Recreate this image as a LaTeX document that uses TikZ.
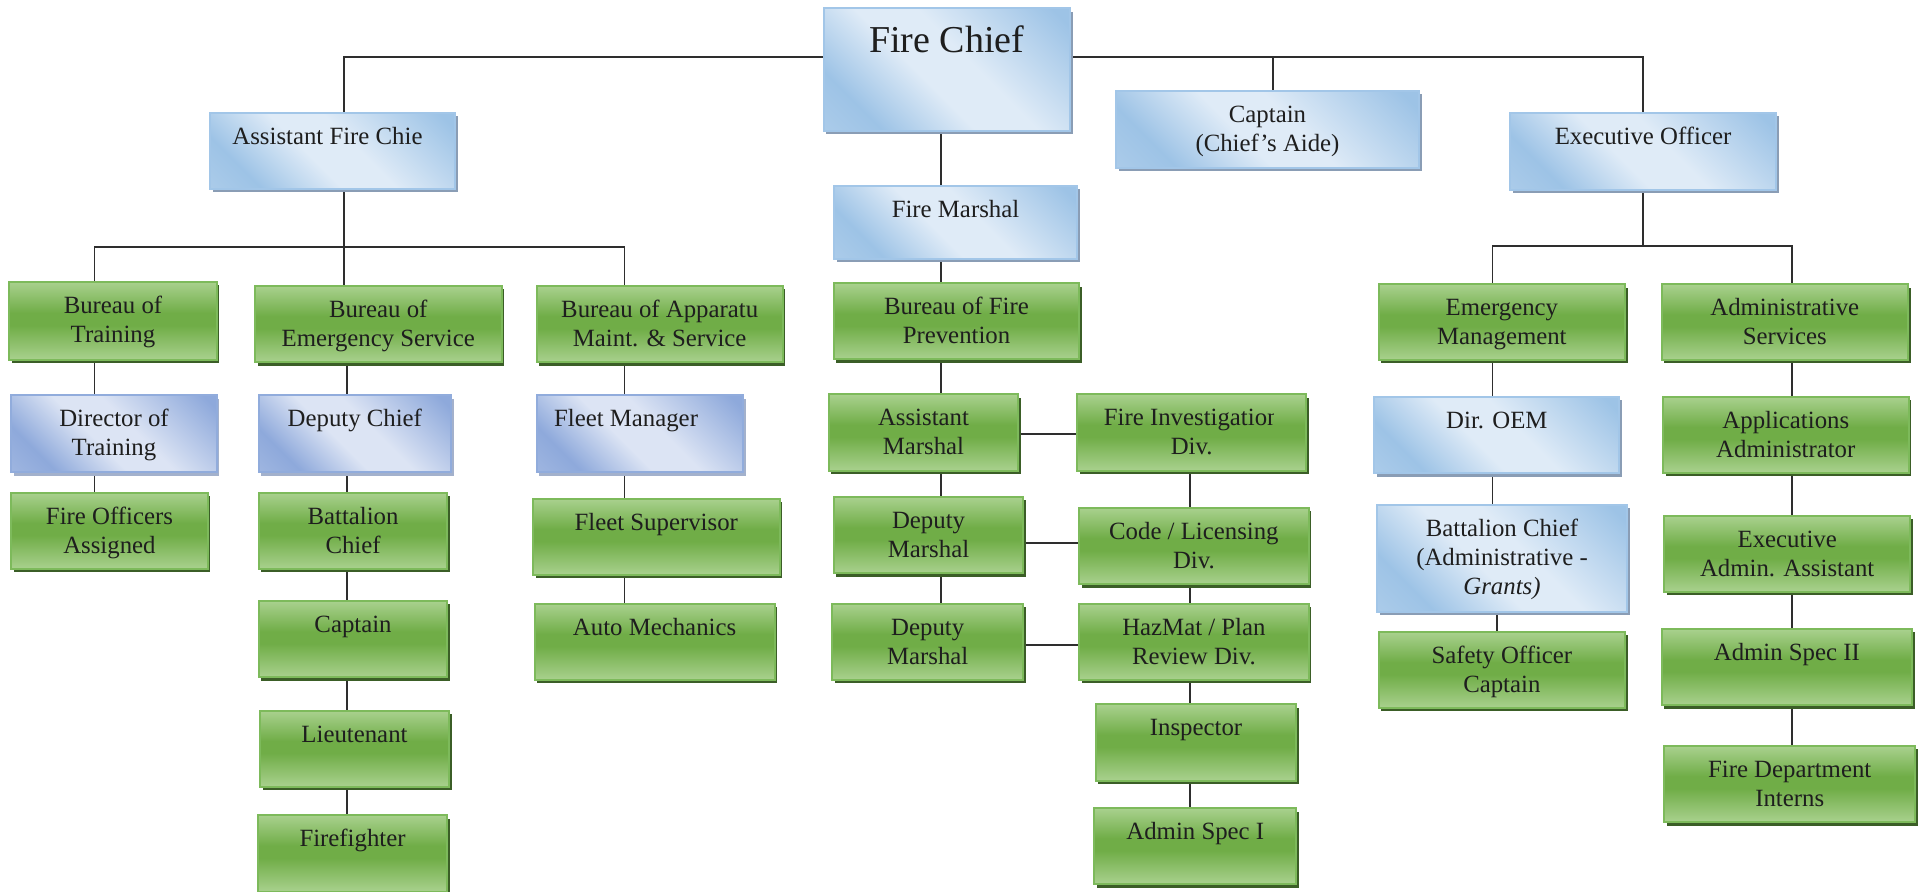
\documentclass[tikz,border=0pt]{standalone}
\usepackage{fontspec}
\setmainfont{Liberation Serif}
\usetikzlibrary{calc}

\definecolor{ink}{HTML}{1E1E1E}
\definecolor{gLight}{HTML}{A9D18E}
\definecolor{gDark}{HTML}{70AD47}
\definecolor{gEdge}{HTML}{7DBA5B}
\definecolor{gShade}{HTML}{3B5E27}
\definecolor{sLight}{HTML}{DFEBF7}
\definecolor{sDark}{HTML}{9DC3E6}
\definecolor{sMid}{HTML}{BDD6EE}
\definecolor{sEdge}{HTML}{A2C6E8}
\definecolor{sShade}{HTML}{8A9DB5}
\definecolor{iLight}{HTML}{DCE4F4}
\definecolor{iDark}{HTML}{8EA9DB}
\definecolor{iMid}{HTML}{B4C6E7}
\definecolor{iEdge}{HTML}{91ACDC}
\definecolor{iShade}{HTML}{A3B1CC}
\definecolor{wireclr}{HTML}{2E2E2E}

% green boxes: light - dark - light from top to bottom
\pgfdeclareverticalshading{greensheen}{100bp}{color(0bp)=(gLight); color(25bp)=(gLight); color(47bp)=(gDark); color(55bp)=(gDark); color(75bp)=(gLight); color(100bp)=(gLight)}
% blue boxes: diagonal sheen
\pgfdeclarehorizontalshading{skysheen}{100bp}{color(0bp)=(sDark); color(18bp)=(sDark); color(44bp)=(sLight); color(56bp)=(sLight); color(74bp)=(sDark); color(100bp)=(sMid)}
\pgfdeclarehorizontalshading{indigosheen}{100bp}{color(0bp)=(iDark); color(18bp)=(iDark); color(44bp)=(iLight); color(56bp)=(iLight); color(74bp)=(iDark); color(100bp)=(iMid)}

\pgfdeclarelayer{background}
\pgfsetlayers{background,main}

\tikzset{
  boxbase/.style={rectangle, inner sep=0pt, outer sep=0pt, line width=1pt, text=ink,
    font=\fontsize{12.4}{14.5}\selectfont, shade},
  gbox/.style={boxbase, shading=greensheen, draw=gEdge},
  gbox shadow/.style={fill=gShade},
  sbox/.style={boxbase, shading=skysheen, shading angle=225, draw=sEdge},
  sbox shadow/.style={fill=sShade},
  ibox/.style={boxbase, shading=indigosheen, shading angle=225, draw=iEdge},
  ibox shadow/.style={fill=iShade},
  chiefbox/.style={sbox, font=\fontsize{19}{22}\selectfont},
  chiefbox shadow/.style={sbox shadow},
  wire/.style={draw=wireclr, line width=0.9pt},
}

% \orgbox[top pad]{style}{name}{x1}{y1}{x2}{y2}{text}
\newcommand\orgbox[8][5.6pt]{%
  \pgfmathsetmacro\obw{(#6-#4)*0.5}%
  \pgfmathsetmacro\obh{(#7-#5)*0.5}%
  \fill[#2 shadow] ($(#4,#5)+(2.5,3.5)$) rectangle ($(#6,#7)+(2.5,3.5)$);
  \node[#2, minimum width=\obw pt, minimum height=\obh pt] (#3) at ({(#4+#6)/2},{(#5+#7)/2})
    {\parbox[c][\obh pt][t]{\obw pt}{\centering\vspace*{#1}\strut#8\strut}};
}

\begin{document}
\begin{tikzpicture}[x=0.5pt, y=-0.5pt]
\useasboundingbox (0,0) rectangle (1923,892);

% ---- top level
\orgbox[6.6pt]{chiefbox}{chief}{823.6}{8.3}{1070}{131}{Fire Chief}
\orgbox{sbox}{afc}{210}{113}{455}{189}{Assistant Fire Chie\hspace*{5pt}}
\orgbox{sbox}{aide}{1116}{91}{1419}{168}{Captain\\(Chief’s Aide)}
\orgbox{sbox}{exo}{1510}{113}{1776}{190}{Executive Officer}
\orgbox{sbox}{fm}{834}{186}{1077}{259}{Fire Marshal}

% ---- training / emergency service / apparatus
\orgbox{gbox}{bot}{9.2}{281.7}{216.8}{360}{Bureau of\\Training}
\orgbox{gbox}{boes}{255}{285.7}{501.5}{362.3}{Bureau of\\Emergency Service}
\orgbox{gbox}{boa}{536.7}{285.7}{782.7}{362.3}{Bureau of Apparatu\\Maint. \& Service}
\orgbox{ibox}{dot}{11.2}{395.3}{216.8}{472.3}{Director of\\Training}
\orgbox{ibox}{dc}{258.7}{395.3}{451}{472.3}{Deputy Chief}
\orgbox{ibox}{fmgr}{536.7}{395.3}{743.4}{472.3}{Fleet Manager\hspace*{14pt}}
\orgbox{gbox}{foa}{11.2}{492.7}{207.7}{569}{Fire Officers\\Assigned}
\orgbox{gbox}{bc}{258.7}{492.7}{447.4}{569}{Battalion\\Chief}
\orgbox{gbox}{fsup}{533}{498.7}{779.6}{575}{Fleet Supervisor}
\orgbox{gbox}{cpt}{258.7}{601}{447.4}{677.3}{Captain}
\orgbox{gbox}{amech}{534.7}{603.7}{774.5}{680}{Auto Mechanics}
\orgbox{gbox}{lt}{260}{710.7}{449}{786.7}{Lieutenant}
\orgbox{gbox}{ff}{257.7}{815}{447.4}{892}{Firefighter}

% ---- fire prevention
\orgbox{gbox}{bfp}{833.7}{283.3}{1079.3}{359.3}{Bureau of Fire\\Prevention}
\orgbox{gbox}{asm}{828.6}{394.3}{1018.4}{470.7}{Assistant\\Marshal}
\orgbox{gbox}{fid}{1077}{394.3}{1306.3}{470.7}{\\Div.}
\begin{scope}
  \clip (1077,394.3) rectangle (1273,440);
  \node[boxbase, draw=none, shade=false, anchor=base] (fidline) at (1191.7,425.8) {Fire Investigation};
\end{scope}
\orgbox{gbox}{dm1}{833.7}{497}{1023.4}{573.3}{Deputy\\Marshal}
\orgbox{gbox}{code}{1079.3}{507.7}{1308.5}{584.3}{Code / Licensing\\Div.}
\orgbox{gbox}{dm2}{832}{603.7}{1023.4}{680}{Deputy\\Marshal}
\orgbox{gbox}{haz}{1079.3}{603.7}{1308.5}{680}{HazMat / Plan\\Review Div.}
\orgbox{gbox}{insp}{1095.8}{704.3}{1296.3}{780.7}{Inspector}
\orgbox{gbox}{asi}{1094.3}{808}{1296.3}{884}{Admin Spec I}

% ---- executive officer branch
\orgbox{gbox}{em}{1378.7}{284.3}{1625}{360}{Emergency\\Management}
\orgbox{gbox}{adms}{1661.5}{284.3}{1908}{360}{Administrative\\Services}
\orgbox{sbox}{oem}{1374.4}{396.7}{1619.3}{473.3}{Dir. OEM}
\orgbox{gbox}{appadm}{1663}{396.7}{1908.6}{472.7}{Applications\\Administrator}
\orgbox{sbox}{bcadm}{1377}{504.7}{1627}{611.7}{Battalion Chief\\(Administrative -\\\textit{Grants)}}
\orgbox{gbox}{eaa}{1664.4}{516}{1910}{591.7}{Executive\\Admin. Assistant}
\orgbox{gbox}{safety}{1378.7}{632}{1625}{708}{Safety Officer\\Captain}
\orgbox{gbox}{asii}{1661.5}{629}{1912.2}{705.3}{Admin Spec II}
\orgbox{gbox}{fdi}{1664.4}{746}{1915}{822}{Fire Department\\Interns}

% ---- connector columns and bus heights
\coordinate (xAFC) at (344,0);
\coordinate (xA) at (94.4,0);
\coordinate (xB) at (347,0);
\coordinate (xC) at (624.5,0);
\coordinate (xD) at (941,0);
\coordinate (xE) at (1190.3,0);
\coordinate (xF) at (1492.5,0);
\coordinate (xF2) at (1497,0);
\coordinate (xG) at (1792,0);
\coordinate (xCap) at (1273,0);
\coordinate (yTop) at (0,56.7);
\coordinate (yAFC) at (0,246.7);
\coordinate (yExo) at (0,245.7);
\coordinate (yL1) at (0,434);
\coordinate (yL2) at (0,542.7);
\coordinate (yL3) at (0,645);

\begin{pgfonlayer}{background}
  % chief's bus
  \draw[wire] (afc.north -| xAFC) |- (chief.west |- yTop);
  \draw[wire] (chief.east |- yTop) -| (exo.north);
  \draw[wire] (xCap |- yTop) -- (aide.north -| xCap);
  % assistant fire chief's bureaus
  \draw[wire] (afc.south -| xAFC) -- (boes.north -| xAFC);
  \draw[wire] (bot.north -| xA) |- (xC |- yAFC) -- (boa.north -| xC);
  \draw[wire] (bot.south -| xA) -- (dot.north -| xA);
  \draw[wire] (dot.south -| xA) -- (foa.north -| xA);
  \draw[wire] (boes.south -| xB) -- (dc.north -| xB);
  \draw[wire] (dc.south -| xB) -- (bc.north -| xB);
  \draw[wire] (bc.south -| xB) -- (cpt.north -| xB);
  \draw[wire] (cpt.south -| xB) -- (lt.north -| xB);
  \draw[wire] (lt.south -| xB) -- (ff.north -| xB);
  \draw[wire] (boa.south -| xC) -- (fmgr.north -| xC);
  \draw[wire] (fmgr.south -| xC) -- (fsup.north -| xC);
  \draw[wire] (fsup.south -| xC) -- (amech.north -| xC);
  % fire marshal's column
  \draw[wire] (chief.south -| xD) -- (fm.north -| xD);
  \draw[wire] (fm.south -| xD) -- (bfp.north -| xD);
  \draw[wire] (bfp.south -| xD) -- (asm.north -| xD);
  \draw[wire] (asm.south -| xD) -- (dm1.north -| xD);
  \draw[wire] (dm1.south -| xD) -- (dm2.north -| xD);
  \draw[wire] (asm.east |- yL1) -- (fid.west |- yL1);
  \draw[wire] (dm1.east |- yL2) -- (code.west |- yL2);
  \draw[wire] (dm2.east |- yL3) -- (haz.west |- yL3);
  \draw[wire] (fid.south -| xE) -- (code.north -| xE);
  \draw[wire] (code.south -| xE) -- (haz.north -| xE);
  \draw[wire] (haz.south -| xE) -- (insp.north -| xE);
  \draw[wire] (insp.south -| xE) -- (asi.north -| xE);
  % executive officer's branch
  \draw[wire] (exo.south) -- (exo.south |- yExo);
  \draw[wire] (em.north -| xF) |- (xG |- yExo) -- (adms.north -| xG);
  \draw[wire] (em.south -| xF) -- (oem.north -| xF);
  \draw[wire] (oem.south -| xF) -- (bcadm.north -| xF);
  \draw[wire] (bcadm.south -| xF2) -- (safety.north -| xF2);
  \draw[wire] (adms.south -| xG) -- (appadm.north -| xG);
  \draw[wire] (appadm.south -| xG) -- (eaa.north -| xG);
  \draw[wire] (eaa.south -| xG) -- (asii.north -| xG);
  \draw[wire] (asii.south -| xG) -- (fdi.north -| xG);
\end{pgfonlayer}
\end{tikzpicture}
\end{document}
